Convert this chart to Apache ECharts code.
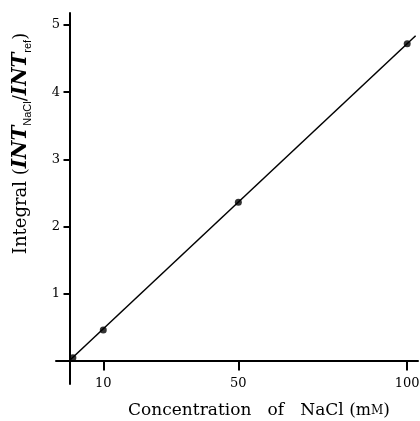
<!DOCTYPE html>
<html><head><meta charset="utf-8">
<script src="https://cdn.jsdelivr.net/npm/echarts@6/dist/echarts.min.js"></script>
<style>html,body{margin:0;padding:0;background:#fff}#c{width:420px;height:421px}</style>
</head><body><div id="c"></div>
<script>
const concentration = [1, 10, 50, 100];
const integral = [0.04, 0.455, 2.36, 4.72];
const fitX = [0, 102.5];
const fitY = [0, 4.84];
const xTicks = [10, 50, 100];
const yTicks = [1, 2, 3, 4, 5];

const serif = 'DejaVu Serif';
const chart = echarts.init(document.getElementById('c'), null, {renderer: 'canvas'});
chart.setOption({
  animation: false,
  backgroundColor: '#fff',
  grid: {left: 56, right: 2, top: 13, bottom: 37, containLabel: false, outerBoundsMode: 'none'},
  xAxis: {
    type: 'value', min: -4, max: 103.2,
    splitLine: {show: false},
    axisLine: {onZero: true, lineStyle: {color: '#000', width: 2}},
    axisTick: {customValues: xTicks, length: 10, lineStyle: {color: '#000', width: 2}},
    axisLabel: {customValues: xTicks, margin: -7, color: '#000', fontSize: 13, fontFamily: serif},
    name: '{a|Concentration   of   NaCl (}{b|m}{c|M}{a|)}',
    nameLocation: 'middle', nameGap: 18,
    nameTextStyle: {
      padding: [0, 0, 0, 44],
      rich: {
        a: {fontSize: 17, fontFamily: serif, color: '#000'},
        b: {fontSize: 16, fontFamily: serif, color: '#000'},
        c: {fontSize: 12, fontFamily: serif, color: '#000'}
      }
    }
  },
  yAxis: {
    type: 'value', min: -0.35, max: 5.18,
    splitLine: {show: false},
    axisLine: {onZero: true, lineStyle: {color: '#000', width: 2}},
    axisTick: {customValues: yTicks, length: 6, lineStyle: {color: '#000', width: 2}},
    axisLabel: {customValues: yTicks, margin: -4, color: '#000', fontSize: 13, fontFamily: serif},
    name: '{a|Integral (}{i|INT}{s|NaCl}{a|/}{i|INT}{s|ref}{a|)}',
    nameLocation: 'middle', nameGap: 23, nameRotate: 90,
    nameTextStyle: {
      padding: [0, 0, 0, 110],
      rich: {
        a: {fontSize: 18, fontFamily: serif, color: '#000', lineHeight: 24},
        i: {fontSize: 20, fontFamily: serif, fontStyle: 'italic', fontWeight: 'bold', color: '#000', lineHeight: 24},
        s: {fontSize: 11, fontFamily: 'Liberation Sans', color: '#000', verticalAlign: 'bottom', lineHeight: 12}
      }
    }
  },
  series: [
    {
      type: 'line', data: fitX.map((x, i) => [x, fitY[i]]),
      showSymbol: false, lineStyle: {color: '#000', width: 1.5}, z: 2
    },
    {
      type: 'scatter', data: concentration.map((x, i) => [x, integral[i]]),
      symbol: 'circle', symbolSize: 7, itemStyle: {color: '#000'}, z: 3
    }
  ]
});
</script></body></html>
